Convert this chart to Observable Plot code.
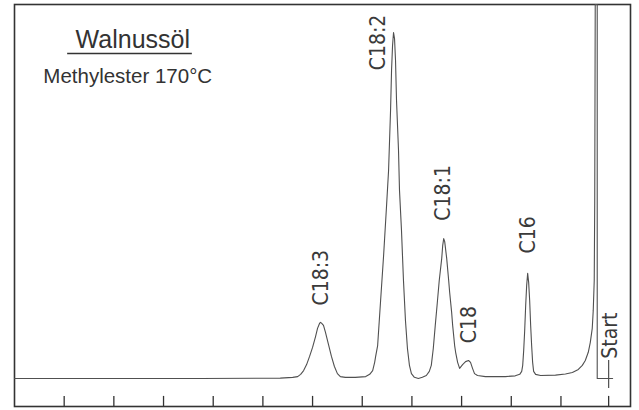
<!DOCTYPE html>
<html>
<head>
<meta charset="utf-8">
<script src="https://cdn.jsdelivr.net/npm/d3@7"></script>
<script src="https://cdn.jsdelivr.net/npm/@observablehq/plot@0.6"></script>
<style>
  html, body { margin: 0; padding: 0; background: #fff; }
  svg { display: block; }
</style>
</head>
<body>
<div id="chart"></div>
<script>
// Chart paper position (mm, left to right) and detector signal (% of full scale)
const traceX = [0,17.3,37.4,53.5,56.0,57.0,57.6,58.2,58.8,59.4,60.0,60.6,61.0,61.4,61.6,61.8,62.2,62.6,63.2,63.8,64.4,65.0,65.6,66.6,
  68.6,70.7,71.5,72.1,72.5,72.7,73.1,73.7,74.3,74.9,75.3,75.7,75.9,76.1,76.3,76.5,76.7,76.9,77.3,77.5,77.9,78.3,78.7,79.1,79.5,79.9,80.5,81.3,
  82.1,82.9,83.5,83.9,84.3,84.7,85.1,85.5,86.0,86.2,86.4,86.6,87.0,87.4,87.6,88.0,88.2,88.6,88.8,89.2,89.6,90.2,90.8,91.4,91.8,92.2,92.6,93.2,94.8,
  98.8,100.8,101.7,102.1,102.3,102.5,102.7,102.9,103.1,103.3,103.5,103.7,103.9,104.1,104.3,104.5,104.9,105.9,108.9,110.9,112.3,113.5,114.3,114.9,
  115.5,115.9,116.3,116.5,116.7,116.8,116.9,117.3,117.3,120.4];
const traceY = [0,0,0,0.1,0.3,0.5,1.1,2.1,3.7,5.9,8.3,11.2,13.4,14.7,15.0,14.8,14.2,12.3,9.1,5.9,3.2,1.3,0.5,0.3,
  0.3,0.5,1.1,2.1,4.3,5.9,8.8,20.9,32.9,46.3,55.6,71.7,82.4,89.0,92.5,90.9,85.0,74.3,61.0,50.3,39.6,26.2,15.5,8.0,3.5,1.3,0.3,0,
  0.3,0.8,1.9,3.5,8.0,14.2,20.1,26.2,32.1,35.6,37.4,36.6,32.1,26.2,23.0,17.6,14.2,8.8,7.0,4.3,2.7,3.7,4.5,4.8,4.3,2.7,1.3,0.8,0.5,
  0.5,0.7,1.1,1.9,3.5,7.5,12.8,19.5,24.9,28.1,25.7,20.9,14.2,8.8,4.3,1.9,1.1,0.8,0.9,1.2,1.6,2.4,3.5,4.8,
  7.0,9.6,13.4,18.2,26.2,47.6,100,100,0,0];

// Peak labels
const peakNames  = ["C18:3", "C18:2", "C18:1", "C18", "C16"];
const peakLabelX = [61.8, 73.3, 86.4, 91.6, 103.5];
const peakLabelY = [19.5, 82.4, 42.2, 9.4, 33.4];

// Start marker
const startX = 119.6;
const startLabel = "Start";
const startLabelY = 5.3;

// Tick marks on the time axis
const tickValues = [10, 20, 30, 40, 50, 60, 70, 80, 90, 100, 110, 119.6];

// Title block
const titleText = "Walnussöl";
const subtitleText = "Methylester 170°C";
const titleX = 12.3, titleY = 88.5;
const subtitleX = 5.8, subtitleY = 79.1;
const underlineX1 = 10.7, underlineX2 = 35.8, underlineY = 86.9;

const xDomain = [0, 124];
const yDomain = [-7.5, 100];

const trace = traceX.map((x, i) => ({x, y: traceY[i]}));
const peaks = peakNames.map((name, i) => ({name, x: peakLabelX[i], y: peakLabelY[i]}));

const ink = "#505050";
const fontMain = "'Liberation Sans', Arial, sans-serif";
const fontNarrow = "'Liberation Sans Narrow', 'DejaVu Sans Condensed', 'Liberation Sans', sans-serif";

const plot = Plot.plot({
  width: 639,
  height: 410,
  marginLeft: 14,
  marginRight: 9,
  marginTop: 4,
  marginBottom: 4,
  x: {domain: xDomain, axis: null},
  y: {domain: yDomain, axis: null},
  style: {background: "#fff", fontFamily: fontMain},
  marks: [
    Plot.frame({stroke: "#333", strokeWidth: 1.6}),
    Plot.ruleX(tickValues, {y1: yDomain[0], y2: yDomain[0] + 2.7, stroke: "#333", strokeWidth: 1.3}),
    Plot.ruleX([startX], {y1: -2.7, y2: 4.8, stroke: ink, strokeWidth: 1.2}),
    Plot.line(trace, {x: "x", y: "y", stroke: ink, strokeWidth: 1.1, curve: "linear"}),
    Plot.text(peaks, {x: "x", y: "y", text: "name", rotate: -90, textAnchor: "start",
      fontSize: 21, fill: "#3a3a3a", fontFamily: fontNarrow}),
    Plot.text([startLabel], {x: startX, y: startLabelY, text: d => d, rotate: -90, textAnchor: "start",
      fontSize: 21, fill: "#3a3a3a", fontFamily: fontNarrow, dx: 2}),
    Plot.text([titleText], {x: titleX, y: titleY, text: d => d, textAnchor: "start", lineAnchor: "bottom",
      fontSize: 25, fill: "#333", fontFamily: fontMain}),
    Plot.ruleY([underlineY], {x1: underlineX1, x2: underlineX2, stroke: "#333", strokeWidth: 1.6}),
    Plot.text([subtitleText], {x: subtitleX, y: subtitleY, text: d => d, textAnchor: "start", lineAnchor: "bottom",
      fontSize: 20.5, fill: "#333", fontFamily: fontMain})
  ]
});
document.getElementById("chart").appendChild(plot);
</script>
</body>
</html>
